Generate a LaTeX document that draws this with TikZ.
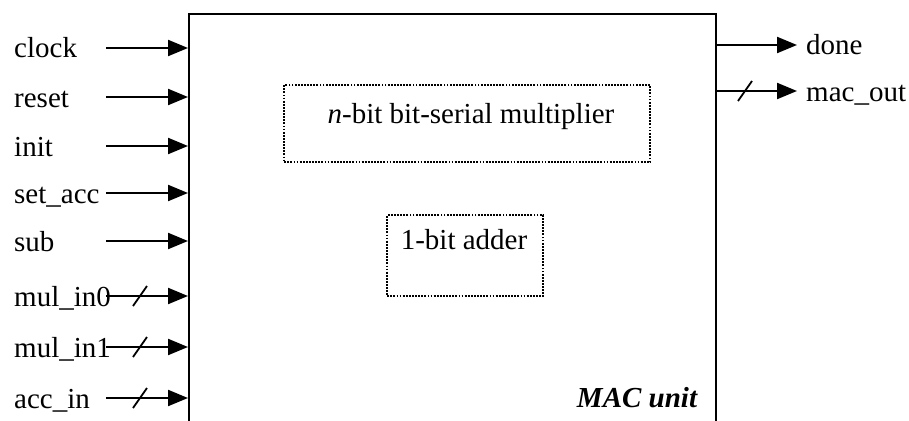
\documentclass[tikz,border=0pt]{standalone}
\usepackage{fontspec}
\setmainfont{Liberation Serif}
\usetikzlibrary{arrows.meta}
\begin{document}
\begin{tikzpicture}[x=1pt,y=-1pt,
  font=\fontsize{29}{34}\selectfont,
  sig/.style={line width=2.2pt,-{Triangle[length=20pt,width=16pt]}},
  bus/.style={line width=1.8pt},
  lbl/.style={anchor=base west,inner sep=0pt},
  dotbox/.style={draw,line width=2.4pt,dash pattern=on 1.8pt off 1.3pt,inner sep=0pt}]
\useasboundingbox (0,0) rectangle (909,420);
% outer unit frame, continuing below the lower edge
\begin{scope}
  \clip (0,0) rectangle (909,420);
  \node[draw,line width=2.2pt,inner sep=0pt,anchor=north west,
        minimum width=527pt,minimum height=480pt] (mac) at (188,13) {};
\end{scope}
% inputs
\foreach \nm/\txt/\yy in {clock/clock/48,reset/reset/97,init/init/146,
    setacc/set\_acc/193,sub/sub/241,mulzero/mul\_in0/296,
    mulone/mul\_in1/347,accin/acc\_in/398}{
  \node[lbl] (l-\nm) at (14,\yy+10) {\txt};
  \coordinate (s-\nm) at (106,\yy);
  \draw[sig] (s-\nm) -- (s-\nm -| mac.west);
}
% bus width marks on the multi-bit inputs
\foreach \yy in {296,347,398}{
  \draw[bus] (133,\yy+10) -- (147,\yy-10);
}
% outputs
\coordinate (o-done) at (797,45);
\coordinate (o-macout) at (797,91);
\draw[sig] (o-done -| mac.east) -- (o-done);
\draw[sig] (o-macout -| mac.east) -- (o-macout);
\draw[bus] (738,101) -- (752,81);
\node[lbl] (l-done) at (806,55) {done};
\node[lbl] (l-macout) at (806,101) {mac\_out};
% internal blocks
\node[dotbox,minimum width=366pt,minimum height=77pt,anchor=north west] (mult) at (283,84) {};
\node[anchor=base,inner sep=0pt] (t-mult) at (471,123) {\textit{n}-bit bit-serial multiplier};
\node[dotbox,minimum width=156pt,minimum height=81pt,anchor=north west] (adder) at (386,214) {};
\node[anchor=base,inner sep=0pt] (t-adder) at (464,249) {1-bit adder};
\node[anchor=base east,inner sep=0pt] (t-mac) at (698,407) {\textbf{\textit{MAC unit}}};
\end{tikzpicture}
\end{document}
